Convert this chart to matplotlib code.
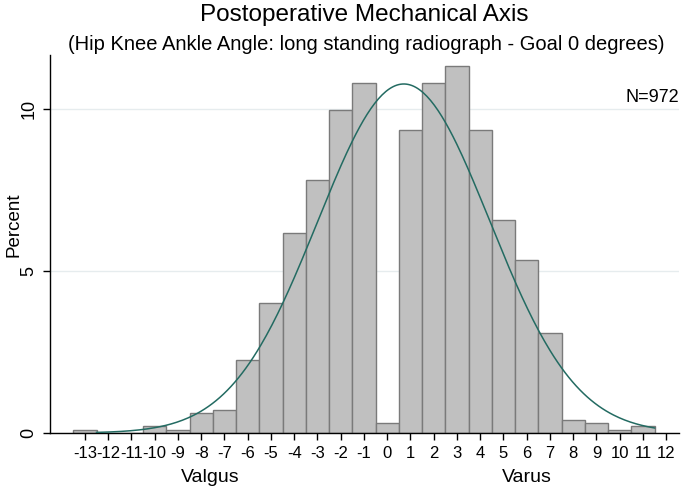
import numpy as np
import matplotlib
matplotlib.use("Agg")
import matplotlib.pyplot as plt

plt.rcParams['font.family'] = ['Liberation Sans', 'DejaVu Sans']

# angle bins (degrees) and percent of knees in each bin
angles = [-13, -12, -11, -10, -9, -8, -7, -6, -5, -4, -3, -2, -1,
          0, 1, 2, 3, 4, 5, 6, 7, 8, 9, 10, 11]
percent = [0.10, 0.0, 0.0, 0.21, 0.10, 0.62, 0.72, 2.26, 4.01, 6.17, 7.82, 9.98, 10.80,
           0.31, 9.36, 10.80, 11.32, 9.36, 6.58, 5.35, 3.09, 0.41, 0.31, 0.10, 0.21]
tick_values = list(range(-13, 13))
n_total = 972

ang = np.array(angles, dtype=float)
pct = np.array(percent)

# normal curve fitted to the histogram
mean = (ang * pct).sum() / pct.sum()
sd = np.sqrt(((ang - mean) ** 2 * pct).sum() / pct.sum())
xs = np.linspace(-12.5, 11.5, 300)
ys = 100 / (sd * np.sqrt(2 * np.pi)) * np.exp(-0.5 * ((xs - mean) / sd) ** 2)

fig = plt.figure(figsize=(6.81, 4.87), dpi=100)
ax = fig.add_axes([50 / 681, 1 - 433 / 487, 629 / 681, 378 / 487])

ax.bar(ang, pct, width=1.0, color='#c0c0c0', edgecolor='#7a7a7a', linewidth=1.0, zorder=2)
ax.plot(xs, ys, color='#236b62', linewidth=1.1, zorder=3)

ax.set_xlim(-14.5, 12.55)
ax.set_ylim(0, 11.67)
ax.set_xticks(tick_values)
ax.set_xticklabels([str(t) for t in tick_values], fontsize=12)
ax.set_yticks([0, 5, 10])
ax.set_yticklabels(['0', '5', '10'], fontsize=13, rotation=90, va='center')
ax.tick_params(axis='both', direction='out', length=5, width=1, color='black')
ax.tick_params(axis='x', pad=4)
ax.tick_params(axis='y', pad=4)
ax.grid(axis='y', color='#e6ecee', linewidth=1, zorder=0)
ax.set_axisbelow(True)

for side in ['top', 'right']:
    ax.spines[side].set_visible(False)
ax.spines['left'].set_linewidth(1)
ax.spines['bottom'].set_linewidth(1)

ax.set_ylabel('Percent', fontsize=13.5)
ax.yaxis.set_label_coords(-28 / 629, 0.55)
ax.text(-7.6, -1.36, 'Valgus', fontsize=14, ha='center', va='center')
ax.text(6.0, -1.36, 'Varus', fontsize=14, ha='center', va='center')
ax.text(12.55, 10.35, 'N=%d' % n_total, fontsize=13, ha='right', va='center')

fig.text(364 / 681, 1 - 15 / 487, 'Postoperative Mechanical Axis', fontsize=17.5,
         ha='center', va='center')
fig.text(366 / 681, 1 - 44 / 487,
         '(Hip Knee Ankle Angle: long standing radiograph - Goal 0 degrees)',
         fontsize=14.5, ha='center', va='center')

fig.savefig('out.png', dpi=100)
